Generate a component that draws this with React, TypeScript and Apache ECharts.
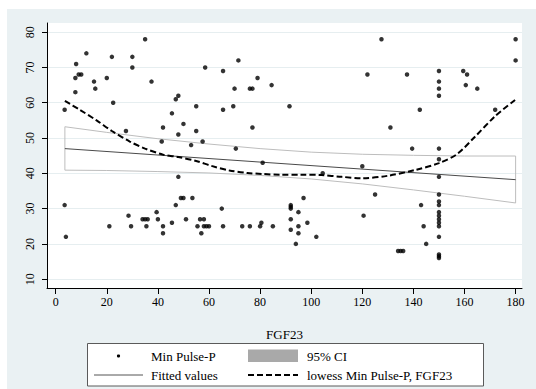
import React, { useEffect, useRef } from "react";
import * as echarts from "echarts";

const xTicks = [0, 20, 40, 60, 80, 100, 120, 140, 160, 180];
const yTicks = [10, 20, 30, 40, 50, 60, 70, 80];

const fgf23 = [
  3.5, 7.7, 7.7, 8, 9, 10, 12, 15, 15.5, 20, 22, 22.5, 27.5, 30, 30, 35, 37.5, 41.5, 42, 45.5,
  47, 48, 48, 50, 53, 55, 55, 57.5, 58.5, 65.5, 65.5, 69.5, 70, 71.5, 70.5, 76, 77, 77, 79, 84.5,
  91.5, 127.5, 122, 137.5, 142.5, 131, 139.5, 150, 150, 150, 150, 150, 159.5, 161, 160.5, 165, 172, 180, 180,
  150, 150, 150, 150, 150, 150, 150, 150, 150, 150, 150, 150, 150, 150,
  120, 104.5, 125, 97, 92, 92, 92, 95, 92, 98.5, 92, 95, 95, 94, 102, 120.5, 143, 144, 145, 134, 135, 136,
  3.5, 4, 21, 28.5, 29.5, 34, 35, 36, 35.5, 39.5, 40, 42, 42, 45.5, 47, 48, 49, 50, 51, 53.5,
  55.5, 56.5, 58, 57, 58, 59, 60, 65, 65.5, 73, 76, 80, 80.5, 85, 81,
];
const minPulse = [
  58, 63, 67, 71, 68, 68, 74, 66, 64, 67, 73, 60, 52, 70, 73, 78, 66, 49, 53, 57,
  61, 62, 51, 54, 48, 52, 59, 49, 70, 58, 69, 59, 64, 72, 47, 64, 64, 53, 67, 65,
  59, 78, 68, 68, 58, 53, 47, 47, 69, 66, 64, 62, 69, 68, 65, 64, 58, 78, 72,
  44, 39, 34, 32, 31, 29, 28, 27, 26, 25, 22, 17, 16.5, 16,
  42, 40, 34, 33, 31, 30.5, 30, 29, 27, 26, 24, 25, 23, 20, 22, 28, 31, 25, 20, 18, 18, 18,
  31, 22, 25, 28, 25, 27, 27, 27, 25, 29, 27, 25, 23, 26, 31, 39, 33, 33, 27, 33,
  25, 27, 27, 23, 25, 25, 25, 30, 25, 25, 25, 25, 26, 25, 43,
];

const fitX = [3.6, 180];
const fitY = [47.0, 38.2];

const ciX = [3.6, 20, 40, 60, 80, 100, 120, 140, 160, 180];
const ciUpper = [53.2, 51.6, 49.8, 48.3, 47.0, 46.0, 45.4, 45.1, 44.9, 44.9];
const ciLower = [40.9, 40.8, 40.5, 40.1, 39.4, 38.4, 37.0, 35.3, 33.5, 31.6];

const lowessX = [3.6, 9, 16, 22, 29, 35, 42, 48, 55, 61, 68, 75, 81, 88, 96, 104, 112, 120, 130, 141, 150, 157, 164, 172, 180];
const lowessY = [60.5, 58.2, 55, 52, 49, 47, 45.3, 44.6, 43.5, 42.1, 40.8, 40.1, 39.8, 39.6, 39.6, 39.5, 39.0, 38.6, 39.3, 41.0, 42.9, 45.4, 50.3, 56.2, 60.9];

const FONT = "'Liberation Serif', serif";

export default function App() {
  const ref = useRef<HTMLDivElement>(null);
  useEffect(() => {
    if (!ref.current) return;
    const chart = echarts.init(ref.current, undefined, { renderer: "svg" });
    const scatterData = fgf23.map((x, i) => [x, minPulse[i]]);
    const ciData = [
      ...ciX.map((x, i) => [x, ciUpper[i]]),
      ...ciX.map((x, i) => [x, ciLower[i]]).reverse(),
      [ciX[0], ciUpper[0]],
    ];
    const fitData = fitX.map((x, i) => [x, fitY[i]]);
    const lowessData = lowessX.map((x, i) => [x, lowessY[i]]);
    const textStyle = { fontFamily: FONT, fontSize: 13, fill: "#000" };
    chart.setOption({
      animation: false,
      backgroundColor: "transparent",
      textStyle: { fontFamily: FONT },
      grid: {
        left: 47,
        top: 23,
        right: 14,
        bottom: 101,
        show: true,
        backgroundColor: "#ffffff",
        borderWidth: 0,
      },
      xAxis: {
        type: "value",
        min: -3.4,
        max: 182.5,
        splitNumber: 9,
        name: "FGF23",
        nameLocation: "middle",
        nameGap: 40,
        nameTextStyle: { fontFamily: FONT, fontSize: 13, color: "#000" },
        axisLine: { show: true, onZero: false, lineStyle: { color: "#000", width: 1 } },
        axisTick: { show: true, length: 6, lineStyle: { color: "#000" }, customValues: xTicks },
        axisLabel: { fontFamily: FONT, fontSize: 12, color: "#000", margin: 8, customValues: xTicks },
        splitLine: { show: false },
      },
      yAxis: {
        type: "value",
        min: 7.5,
        max: 82.6,
        splitNumber: 8,
        axisLine: { show: true, onZero: false, lineStyle: { color: "#000", width: 1 } },
        axisTick: { show: true, length: 5, lineStyle: { color: "#000" }, customValues: yTicks },
        axisLabel: { fontFamily: FONT, fontSize: 12, color: "#000", rotate: 90, margin: 11, customValues: yTicks },
        splitLine: { show: true, lineStyle: { color: "#e6eef0", width: 1 } },
      },
      graphic: [
        { type: "rect", z: -100, silent: true, shape: { x: 7, y: 9, width: 529, height: 380 }, style: { fill: "#eaf1f3" } },
        { type: "rect", z: 10, shape: { x: 87.5, y: 343.5, width: 396, height: 42.5 }, style: { fill: "#fff", stroke: "#5a5a5a", lineWidth: 1 } },
        { type: "circle", z: 11, shape: { cx: 118.5, cy: 356, r: 1.6 }, style: { fill: "#000" } },
        { type: "text", z: 11, x: 151, y: 356, style: { ...textStyle, text: "Min Pulse-P", verticalAlign: "middle" } },
        { type: "rect", z: 11, shape: { x: 248, y: 349.5, width: 50, height: 12.5 }, style: { fill: "#a9a9a9" } },
        { type: "text", z: 11, x: 307, y: 356, style: { ...textStyle, text: "95% CI", verticalAlign: "middle" } },
        { type: "line", z: 11, shape: { x1: 94, y1: 375, x2: 143, y2: 375 }, style: { stroke: "#555", lineWidth: 1 } },
        { type: "text", z: 11, x: 151, y: 375, style: { ...textStyle, text: "Fitted values", verticalAlign: "middle" } },
        { type: "line", z: 11, shape: { x1: 248, y1: 375, x2: 298, y2: 375 }, style: { stroke: "#000", lineWidth: 2, lineDash: [6, 3] } },
        { type: "text", z: 11, x: 307, y: 375, style: { ...textStyle, text: "lowess Min Pulse-P, FGF23", verticalAlign: "middle" } },
      ],
      series: [
        {
          type: "line",
          name: "95% CI",
          data: ciData,
          showSymbol: false,
          symbol: "none",
          smooth: false,
          lineStyle: { color: "#bdbdbd", width: 1 },
          z: 1,
        },
        {
          type: "line",
          name: "Fitted values",
          data: fitData,
          symbol: "none",
          lineStyle: { color: "#4a4a4a", width: 1 },
          z: 2,
        },
        {
          type: "scatter",
          name: "Min Pulse-P",
          data: scatterData,
          symbol: "circle",
          symbolSize: 4.5,
          itemStyle: { color: "#000" },
          z: 3,
        },
        {
          type: "line",
          name: "lowess Min Pulse-P, FGF23",
          data: lowessData,
          symbol: "none",
          smooth: 0.3,
          lineStyle: { color: "#000", width: 2, type: [6, 3] },
          z: 4,
        },
      ],
    });
    return () => chart.dispose();
  }, []);
  return (
    <div style={{ position: "absolute", left: 0, top: 0, width: 536, height: 389, background: "#fff" }}>
      <div ref={ref} style={{ width: 536, height: 389 }} />
    </div>
  );
}
